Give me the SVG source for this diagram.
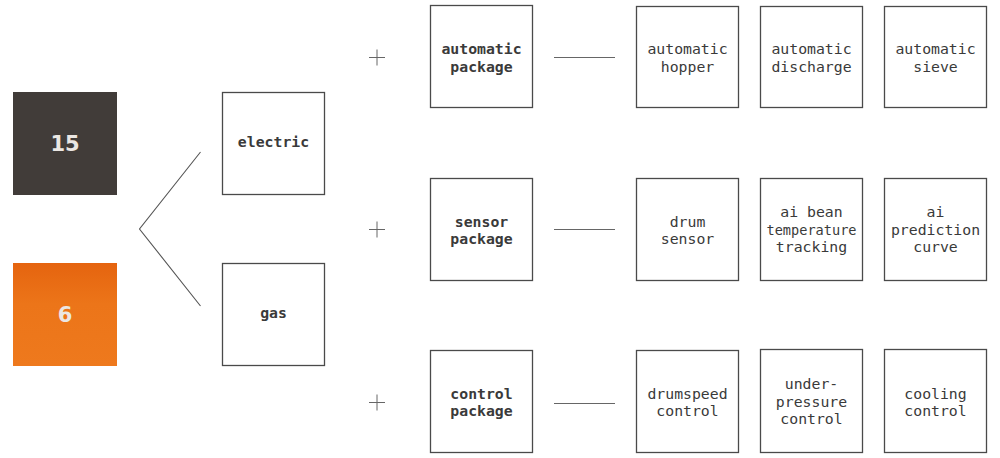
<svg xmlns="http://www.w3.org/2000/svg" width="1000" height="458" viewBox="0 0 1000 458">
<defs>
<linearGradient id="og" x1="0" y1="0" x2="0" y2="1">
<stop offset="0" stop-color="#e5640f"/>
<stop offset="0.4" stop-color="#ec7519"/>
<stop offset="1" stop-color="#ee791d"/>
</linearGradient>
</defs>
<style>
.box{fill:#fff;stroke:#4a4a4a;stroke-width:1.3}
.t{font-family:"DejaVu Sans Mono","Liberation Mono",monospace;font-size:14.8px;fill:#3a3a3a;text-anchor:middle}
.b{font-weight:bold}
.num{font-family:"DejaVu Sans","Liberation Sans",sans-serif;font-weight:bold;font-size:21px;fill:#ebe7e3;text-anchor:middle}
.ln{stroke:#555;stroke-width:1.1;fill:none}
.pl{stroke:#666;stroke-width:1;fill:none}
</style>
<rect width="1000" height="458" fill="#fff"/>
<g id="n15"><rect x="13" y="92" width="104" height="103" fill="#413c39"/><text class="num" x="65" y="151">15</text></g>
<g id="n6"><rect x="13" y="263" width="104" height="103" fill="url(#og)"/><text class="num" x="65" y="322">6</text></g>
<g id="electric"><rect class="box" x="222.5" y="92.5" width="102" height="102"/><text class="t b" x="273.5" y="147">electric</text></g>
<g id="gas"><rect class="box" x="222.5" y="263.5" width="102" height="102"/><text class="t b" x="273.5" y="318">gas</text></g>
<g id="autopkg"><rect class="box" x="430.5" y="5.5" width="102" height="102"/><text class="t b" x="481.5" y="54">automatic</text><text class="t b" x="481.5" y="71.5">package</text></g>
<g id="sensorpkg"><rect class="box" x="430.5" y="178.5" width="102" height="102"/><text class="t b" x="481.5" y="226.5">sensor</text><text class="t b" x="481.5" y="244">package</text></g>
<g id="controlpkg"><rect class="box" x="430.5" y="350.5" width="102" height="102"/><text class="t b" x="481.5" y="398.5">control</text><text class="t b" x="481.5" y="416">package</text></g>
<g id="hopper"><rect class="box" x="636.5" y="6.5" width="102" height="101"/><text class="t" x="687.5" y="54">automatic</text><text class="t" x="687.5" y="71.5">hopper</text></g>
<g id="discharge"><rect class="box" x="760.5" y="6.5" width="102" height="101"/><text class="t" x="811.5" y="54">automatic</text><text class="t" x="811.5" y="71.5">discharge</text></g>
<g id="sieve"><rect class="box" x="884.5" y="6.5" width="102" height="101"/><text class="t" x="935.5" y="54">automatic</text><text class="t" x="935.5" y="71.5">sieve</text></g>
<g id="drumsensor"><rect class="box" x="636.5" y="178.5" width="102" height="102"/><text class="t" x="687.5" y="226.5">drum</text><text class="t" x="687.5" y="244">sensor</text></g>
<g id="beantemp"><rect class="box" x="760.5" y="178.5" width="102" height="102"/><text class="t" x="811.5" y="217">ai bean</text><text class="t" x="811.5" y="234.5" textLength="90" lengthAdjust="spacingAndGlyphs">temperature</text><text class="t" x="811.5" y="252">tracking</text></g>
<g id="prediction"><rect class="box" x="884.5" y="178.5" width="102" height="102"/><text class="t" x="935.5" y="217">ai</text><text class="t" x="935.5" y="234.5">prediction</text><text class="t" x="935.5" y="252">curve</text></g>
<g id="drumspeed"><rect class="box" x="636.5" y="350.5" width="102" height="102"/><text class="t" x="687.5" y="398.5">drumspeed</text><text class="t" x="687.5" y="416">control</text></g>
<g id="underpressure"><rect class="box" x="760.5" y="349.5" width="102" height="103"/><text class="t" x="811.5" y="389">under-</text><text class="t" x="811.5" y="406.5">pressure</text><text class="t" x="811.5" y="424">control</text></g>
<g id="cooling"><rect class="box" x="884.5" y="349.5" width="102" height="103"/><text class="t" x="935.5" y="398.5">cooling</text><text class="t" x="935.5" y="416">control</text></g>
<g id="connectors">
<polyline class="ln" points="200.5,152 139.5,229 200.5,306"/>
<path class="pl" d="M369,57.5h16M377,49.5v16M369,229.5h16M377,221.5v16M369,402.5h16M377,394.5v16"/>
<path class="pl" d="M554,57.5h61M554,229.5h61M554,403.5h61"/>
</g>
</svg>
